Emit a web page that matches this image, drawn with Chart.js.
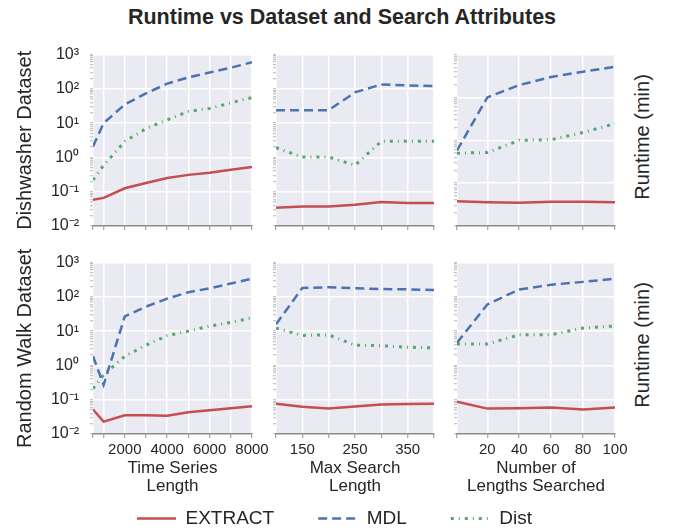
<!DOCTYPE html>
<html>
<head>
<meta charset="utf-8">
<script src="https://cdn.jsdelivr.net/npm/chart.js@4.4.1/dist/chart.umd.min.js"></script>
<style>
  body { margin: 0; background: #fff; width: 684px; height: 531px; overflow: hidden; position: relative;
         font-family: 'Liberation Sans', Arial, sans-serif; color: #262626; }
  canvas { position: absolute; }
  .title { position: absolute; left: 0; width: 684px; top: 5px; line-height: 24px; text-align: center;
           font-weight: bold; font-size: 21.5px; }
  .side { position: absolute; font-size: 20px; white-space: nowrap; transform: translate(-50%, -50%) rotate(-90deg); }
</style>
</head>
<body>
<div class="title">Runtime vs Dataset and Search Attributes</div>
<div class="side" style="left:642px; top:137px">Runtime (min)</div>
<div class="side" style="left:642px; top:345px">Runtime (min)</div>
<canvas id="p0"></canvas>
<canvas id="p1"></canvas>
<canvas id="p2"></canvas>
<canvas id="p3"></canvas>
<canvas id="p4"></canvas>
<canvas id="p5"></canvas>
<canvas id="legend"></canvas>
<script>
// x values and which of them get a label
const lengthX = [500, 1000, 2000, 3000, 4000, 5000, 6000, 7000, 8000];
const lengthTickLabels = [2000, 4000, 6000, 8000];
const searchX = [100, 150, 200, 250, 300, 350, 400];
const searchTickLabels = [150, 250, 350];
const countX = [1, 20, 40, 60, 80, 100];
const countTickLabels = [20, 40, 60, 80, 100];

// log axis decades
const yDecadeValues = [0.01, 0.1, 1, 10, 100, 1000];
const yDecadeLabels = ['10⁻²', '10⁻¹', '10⁰', '10¹', '10²', '10³'];

const seriesNames = ['EXTRACT', 'MDL', 'Dist'];

// Dishwasher dataset (runtime in minutes)
const dishLenExtract = [0.058, 0.066, 0.126, 0.18, 0.25, 0.31, 0.36, 0.44, 0.53];
const dishLenMdl = [2.1, 10, 35, 74, 142, 217, 300, 415, 600];
const dishLenDist = [0.22, 0.59, 2.95, 6.9, 12.5, 22, 27, 39, 56];

const dishSearchExtract = [0.034, 0.037, 0.037, 0.042, 0.050, 0.047, 0.047];
const dishSearchMdl = [23.7, 23.7, 24, 79, 135, 126, 120];
const dishSearchDist = [1.92, 1.03, 1.03, 0.59, 2.95, 2.95, 2.95];

const dishCountExtract = [0.038, 0.036, 0.035, 0.037, 0.037, 0.036];
const dishCountMdl = [0.58, 10, 19.5, 30, 40, 52];
const dishCountDist = [0.50, 0.52, 1.0, 1.03, 1.52, 2.45];

// Random walk dataset
const walkLenExtract = [0.052, 0.023, 0.035, 0.035, 0.034, 0.043, 0.049, 0.056, 0.065];
const walkLenMdl = [1.85, 0.27, 27, 52, 89, 137, 178, 245, 340];
const walkLenDist = [0.21, 0.53, 1.85, 3.9, 7.4, 10, 14, 18, 24.5];

const walkSearchExtract = [0.076, 0.062, 0.055, 0.063, 0.073, 0.075, 0.076];
const walkSearchMdl = [15.8, 183, 190, 178, 170, 166, 158];
const walkSearchDist = [12.3, 7.5, 7.8, 3.9, 3.76, 3.4, 3.24];

const walkCountExtract = [0.087, 0.055, 0.056, 0.059, 0.052, 0.059];
const walkCountMdl = [4.6, 60, 164, 226, 274, 340];
const walkCountDist = [4.2, 4.2, 7.9, 7.9, 12.3, 14.2];

const FONT = "'Liberation Sans', Arial, sans-serif";
const TEXT = '#262626';
Chart.defaults.font.family = FONT;
Chart.defaults.color = TEXT;

const styles = [
  { borderColor: '#C44E52', borderWidth: 2.5, borderDash: [] },
  { borderColor: '#4C72B0', borderWidth: 2.5, borderDash: [9, 5] },
  { borderColor: '#55A868', borderWidth: 3, borderDash: [3, 5, 1, 5] }
];

// panel geometry
const colLeft = [93, 276, 457];
const colWidth = [159, 158, 158];
const rowTop = [48, 256];
const plotH = 178;
const padTop = 14;
const padRight = 30;

const plotBg = {
  id: 'plotBg',
  beforeDraw(chart) {
    const { ctx, chartArea: a } = chart;
    ctx.save();
    ctx.fillStyle = '#EAEAF2';
    ctx.fillRect(a.left, a.top, a.right - a.left, a.bottom - a.top);
    ctx.restore();
  }
};

function logTicks(yMax) {
  const ticks = [];
  yDecadeValues.forEach(d => {
    if (d > yMax) return;
    ticks.push({ value: d, major: true });
    if (d < yMax) {
      for (let k = 2; k <= 9; k++) ticks.push({ value: k * d, major: false });
    }
  });
  return ticks;
}

function makePanel(id, col, row, xs, xLabels, values, yMax, rowTitle, xTitle) {
  const yW = col === 0 ? 93 : 20;
  const xH = row === 0 ? 22 : 61;
  const canvas = document.getElementById(id);
  canvas.width = yW + colWidth[col] + padRight;
  canvas.height = padTop + plotH + xH;
  canvas.style.left = (colLeft[col] - yW) + 'px';
  canvas.style.top = (rowTop[row] - padTop) + 'px';

  const datasets = values.map((ys, i) => ({
    label: seriesNames[i],
    data: xs.map((x, j) => ({ x: x, y: ys[j] })),
    borderColor: styles[i].borderColor,
    borderWidth: styles[i].borderWidth,
    borderDash: styles[i].borderDash,
    borderCapStyle: 'butt',
    pointRadius: 0,
    tension: 0,
    fill: false
  }));

  return new Chart(canvas, {
    type: 'line',
    data: { datasets: datasets },
    plugins: [plotBg],
    options: {
      responsive: false,
      animation: false,
      devicePixelRatio: 1,
      layout: { padding: { top: padTop, right: padRight, left: 0, bottom: 0 } },
      plugins: { legend: { display: false }, tooltip: { enabled: false } },
      scales: {
        x: {
          type: 'linear',
          min: xs[0],
          max: xs[xs.length - 1],
          afterFit: s => { s.height = xH; },
          afterBuildTicks: s => { s.ticks = xs.map(v => ({ value: v })); },
          ticks: {
            autoSkip: false,
            maxRotation: 0,
            padding: 3,
            font: { size: 15 },
            color: TEXT,
            callback: v => (row === 1 && xLabels.includes(v)) ? String(v) : ''
          },
          grid: { color: '#ffffff', lineWidth: 1.5, tickColor: '#8a8a8a', tickLength: 4, tickWidth: 1 },
          border: { display: true, color: '#8a8a8a', width: 1.5 },
          title: {
            display: row === 1,
            text: xTitle,
            font: { size: 17, lineHeight: '18px' },
            padding: { top: 0, bottom: 0 },
            color: TEXT
          }
        },
        y: {
          type: 'logarithmic',
          min: 0.01,
          max: yMax,
          afterFit: s => { s.width = yW; },
          afterBuildTicks: s => { s.ticks = logTicks(yMax); },
          ticks: {
            autoSkip: false,
            padding: 11,
            font: { size: 16 },
            color: TEXT,
            callback: v => {
              if (col !== 0) return '';
              const k = yDecadeValues.findIndex(d => Math.abs(d - v) < d * 1e-6);
              return k >= 0 ? yDecadeLabels[k] : '';
            }
          },
          grid: {
            color: c => (c.tick && c.tick.major && c.index > 0) ? '#ffffff' : 'rgba(0,0,0,0)',
            lineWidth: 1.5,
            tickColor: '#b4b4b4',
            tickLength: 3,
            tickWidth: 1
          },
          border: { display: false },
          title: {
            display: col === 0,
            text: rowTitle,
            font: { size: 20 },
            padding: { top: 13, bottom: 0 },
            color: TEXT
          }
        }
      }
    }
  });
}

makePanel('p0', 0, 0, lengthX, lengthTickLabels, [dishLenExtract, dishLenMdl, dishLenDist], 1000, 'Dishwasher Dataset', '');
makePanel('p1', 1, 0, searchX, searchTickLabels, [dishSearchExtract, dishSearchMdl, dishSearchDist], 1000, '', '');
makePanel('p2', 2, 0, countX, countTickLabels, [dishCountExtract, dishCountMdl, dishCountDist], 100, '', '');
makePanel('p3', 0, 1, lengthX, lengthTickLabels, [walkLenExtract, walkLenMdl, walkLenDist], 1000, 'Random Walk Dataset', ['Time Series', 'Length']);
makePanel('p4', 1, 1, searchX, searchTickLabels, [walkSearchExtract, walkSearchMdl, walkSearchDist], 1000, '', ['Max Search', 'Length']);
makePanel('p5', 2, 1, countX, countTickLabels, [walkCountExtract, walkCountMdl, walkCountDist], 1000, '', ['Number of', 'Lengths Searched']);

// shared legend along the bottom
const legendCanvas = document.getElementById('legend');
legendCanvas.width = 669;
legendCanvas.height = 80;
legendCanvas.style.left = '0px';
legendCanvas.style.top = '465px';
new Chart(legendCanvas, {
  type: 'line',
  data: {
    datasets: seriesNames.map((name, i) => ({
      label: name,
      data: [],
      borderColor: styles[i].borderColor,
      borderWidth: styles[i].borderWidth,
      borderDash: styles[i].borderDash
    }))
  },
  options: {
    responsive: false,
    animation: false,
    devicePixelRatio: 1,
    layout: { padding: 0 },
    scales: { x: { display: false }, y: { display: false } },
    plugins: {
      tooltip: { enabled: false },
      legend: {
        display: true,
        position: 'top',
        align: 'center',
        maxHeight: 80,
        labels: {
          usePointStyle: true,
          pointStyle: 'line',
          pointStyleWidth: 39,
          padding: 44,
          color: TEXT,
          font: { size: 19 },
          generateLabels: () => seriesNames.map((name, i) => ({
            text: name,
            datasetIndex: i,
            hidden: false,
            fontColor: TEXT,
            fillStyle: styles[i].borderColor,
            strokeStyle: styles[i].borderColor,
            lineWidth: styles[i].borderWidth,
            lineDash: styles[i].borderDash,
            lineCap: 'butt',
            pointStyle: 'line'
          }))
        }
      }
    }
  }
});
</script>
</body>
</html>
